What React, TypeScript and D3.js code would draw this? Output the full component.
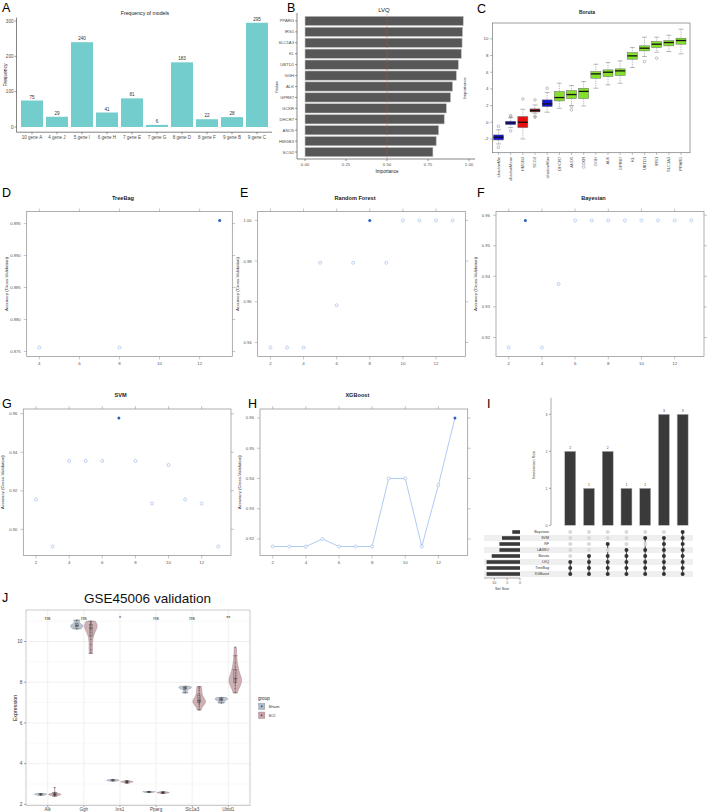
import React, { useEffect, useRef } from 'react';
import * as d3 from 'd3';

const FONT = '"Liberation Sans", Arial, Helvetica, sans-serif';

// A - frequency of models
const modelNames = ['10 gene A', '4 gene J', '5 gene I', '6 gene H', '7 gene E', '7 gene G', '8 gene D', '8 gene F', '9 gene B', '9 gene C'];
const modelFreq = [75, 29, 240, 41, 81, 6, 183, 22, 28, 295];
const freqTicks = [0, 100, 200, 300];

// B - LVQ importance
const lvqGenes = ['PPARG', 'IRS1', 'SLC1A3', 'KL', 'UBTD1', 'GGH', 'ALK', 'GPR87', 'GCKR', 'DHCR7', 'ANO5', 'HMGB3', 'SCG2'];
const lvqImportance = [0.965, 0.961, 0.958, 0.953, 0.935, 0.923, 0.9, 0.888, 0.862, 0.849, 0.815, 0.8, 0.78];
const lvqTicks = [0, 0.25, 0.5, 0.75, 1];

// C - Boruta
const borutaNames = ['shadowMin', 'shadowMean', 'HMGB3', 'SCG2', 'shadowMax', 'DHCR7', 'ANO5', 'GCKR', 'GGH', 'ALK', 'GPR87', 'KL', 'UBTD1', 'IRS1', 'SLC1A3', 'PPARG'];
const borutaDecision = ['shadow', 'shadow', 'rejected', 'tentative', 'shadow', 'confirmed', 'confirmed', 'confirmed', 'confirmed', 'confirmed', 'confirmed', 'confirmed', 'confirmed', 'confirmed', 'confirmed', 'confirmed'];
const borutaLower = [-2.6, -0.64, -2.0, 1.08, 1.2, 1.68, 2.0, 1.96, 4.08, 4.48, 4.68, 6.56, 7.88, 8.4, 8.48, 8.2];
const borutaQ1 = [-2.12, -0.28, -0.64, 1.24, 1.88, 2.56, 2.84, 2.84, 5.28, 5.48, 5.6, 7.56, 8.56, 8.96, 9.16, 9.36];
const borutaMedian = [-1.8, -0.08, 0.0, 1.4, 2.2, 2.96, 3.32, 3.7, 5.8, 6.0, 6.16, 7.96, 8.88, 9.36, 9.56, 9.8];
const borutaQ3 = [-1.52, 0.12, 0.68, 1.6, 2.68, 3.68, 3.8, 4.08, 6.08, 6.28, 6.4, 8.36, 9.16, 9.68, 9.8, 10.08];
const borutaUpper = [-0.9, 0.56, 1.56, 2.08, 3.56, 4.68, 4.4, 4.88, 6.96, 7.16, 7.36, 8.96, 10.2, 10.2, 10.44, 11.16];
const borutaOutliers = [[-0.5, -3.0], [0.8, 0.65, -1.04], [2.8], [2.68, 0.72, 0.6], [4.08], [], [1.88, 1.48], [], [], [], [], [], [7.28], [7.68], [], []];
const borutaTicks = [-2, 0, 2, 4, 6, 8, 10];
const decisionColor: Record<string, string> = {
  shadow: '#1414d8',
  rejected: '#e41010',
  tentative: '#8b1c1c',
  confirmed: '#84e02c',
};

// D-H - caret rfe accuracy
const treebagVars = [4, 8, 13];
const treebagAcc = [0.8756, 0.8756, 0.8955];
const rfVars = [2, 3, 4, 5, 6, 7, 8, 9, 10, 11, 12, 13];
const rfAcc = [0.9375, 0.9375, 0.9375, 0.9792, 0.9583, 0.9792, 1.0, 0.9792, 1.0, 1.0, 1.0, 1.0];
const bayesVars = [2, 3, 4, 5, 6, 7, 8, 9, 10, 11, 12, 13];
const bayesAcc = [0.9167, 0.9583, 0.9167, 0.9375, 0.9583, 0.9583, 0.9583, 0.9583, 0.9583, 0.9583, 0.9583, 0.9583];
const svmVars = [2, 3, 4, 5, 6, 7, 8, 9, 10, 11, 12, 13];
const svmAcc = [0.9155, 0.8911, 0.9355, 0.9355, 0.9355, 0.9578, 0.9355, 0.9134, 0.9334, 0.9155, 0.9134, 0.8911];
const xgbVars = [2, 3, 4, 5, 6, 7, 8, 9, 10, 11, 12, 13];
const xgbAcc = [0.9175, 0.9175, 0.9175, 0.92, 0.9175, 0.9175, 0.9175, 0.94, 0.94, 0.9175, 0.9378, 0.96];

// I - upset
const upsetSets = ['Bayesian', 'SVM', 'RF', 'LASSO', 'Boruta', 'LVQ', 'TreeBag', 'XGBoost'];
const upsetSetSize = [3, 7, 8, 8, 11, 13, 13, 13];
const upsetCounts = [2, 1, 2, 1, 1, 3, 3];
const upsetMembers = [
  ['LVQ', 'TreeBag', 'XGBoost'],
  ['Boruta', 'LVQ', 'TreeBag', 'XGBoost'],
  ['RF', 'Boruta', 'LVQ', 'TreeBag', 'XGBoost'],
  ['LASSO', 'Boruta', 'LVQ', 'TreeBag', 'XGBoost'],
  ['SVM', 'LASSO', 'Boruta', 'LVQ', 'TreeBag', 'XGBoost'],
  ['SVM', 'RF', 'LASSO', 'Boruta', 'LVQ', 'TreeBag', 'XGBoost'],
  ['Bayesian', 'SVM', 'RF', 'LASSO', 'Boruta', 'LVQ', 'TreeBag', 'XGBoost'],
];

// J - GSE45006 validation
const jGenes = ['Alk', 'Ggh', 'Ins1', 'Pparg', 'Slc1a3', 'Ubtd1'];
const jSignif = ['ns', 'ns', '*', 'ns', 'ns', '**'];
const shamExpr = [
  [2.44, 2.48, 2.5, 2.53],
  [10.62, 10.75, 10.82, 11.05],
  [3.14, 3.17, 3.19, 3.22],
  [2.58, 2.6, 2.62, 2.63],
  [7.48, 7.68, 7.74, 7.8],
  [6.98, 7.12, 7.18, 7.25],
];
const sciExpr = [
  [2.4, 2.42, 2.44, 2.45, 2.46, 2.47, 2.48, 2.48, 2.49, 2.5, 2.51, 2.52, 2.53, 2.55, 2.58, 2.82],
  [9.42, 9.6, 9.85, 10.1, 10.3, 10.45, 10.55, 10.62, 10.68, 10.72, 10.78, 10.82, 10.86, 10.9, 10.95, 11.0],
  [3.04, 3.06, 3.07, 3.08, 3.09, 3.09, 3.1, 3.1, 3.11, 3.11, 3.12, 3.12, 3.13, 3.14, 3.15, 3.16],
  [2.53, 2.54, 2.55, 2.56, 2.56, 2.57, 2.57, 2.57, 2.58, 2.58, 2.59, 2.59, 2.6, 2.6, 2.61, 2.62],
  [6.64, 6.8, 6.9, 6.95, 7.0, 7.02, 7.05, 7.08, 7.12, 7.18, 7.25, 7.35, 7.45, 7.6, 7.7, 7.78],
  [7.48, 7.7, 7.85, 7.95, 8.0, 8.05, 8.1, 8.15, 8.2, 8.3, 8.45, 8.6, 8.75, 8.95, 9.3, 9.72],
];
const exprTicks = [2, 4, 6, 8, 10];

function txt(g: any, x: number, y: number, s: string, size: number, o: any = {}) {
  const t = g.append('text')
    .attr('x', x).attr('y', y)
    .attr('font-size', size)
    .attr('fill', o.fill || '#4d4d4d')
    .attr('text-anchor', o.anchor || 'start')
    .text(s);
  if (o.bold) t.attr('font-weight', 'bold');
  if (o.rotate) t.attr('transform', `rotate(${o.rotate},${x},${y})`);
  return t;
}

function line(g: any, x1: number, y1: number, x2: number, y2: number, stroke: string, w = 0.5) {
  return g.append('line').attr('x1', x1).attr('y1', y1).attr('x2', x2).attr('y2', y2)
    .attr('stroke', stroke).attr('stroke-width', w);
}

function drawA(svg: any) {
  const g = svg.append('g');
  const data = modelNames.map((name, i) => ({ name, freq: modelFreq[i] }));
  const x = d3.scaleBand().domain(modelNames).range([17, 272]).paddingInner(0.12).paddingOuter(0.16);
  const y = d3.scaleLinear().domain([0, 300]).range([127, 21]);

  g.selectAll('rect.bar').data(data).join('rect')
    .attr('x', (d: any) => x(d.name)).attr('width', x.bandwidth())
    .attr('y', (d: any) => y(d.freq)).attr('height', (d: any) => y(0) - y(d.freq))
    .attr('fill', '#74cdcd');
  data.forEach(d => txt(g, x(d.name)! + x.bandwidth() / 2, y(d.freq) - 2, String(d.freq), 4.6, { anchor: 'middle', fill: '#333' }));

  line(g, 16.5, y(309.75), 16.5, y(-14.75), '#333', 0.6);
  line(g, 16.5, y(-14.75), 272, y(-14.75), '#333', 0.6);
  freqTicks.forEach(t => {
    line(g, 14.5, y(t), 16.5, y(t), '#333', 0.5);
    txt(g, 13.5, y(t) + 1.6, String(t), 4.6, { anchor: 'end' });
  });
  data.forEach(d => {
    const cx = x(d.name)! + x.bandwidth() / 2;
    line(g, cx, y(-14.75), cx, y(-14.75) + 2, '#333', 0.5);
    txt(g, cx, 138.5, d.name, 4.5, { anchor: 'middle' });
  });
  txt(g, 145, 15, 'Frequency of models', 5.2, { anchor: 'middle', fill: '#222' });
  txt(g, 6.5, 75, 'Frequency', 4.8, { anchor: 'middle', rotate: -90, fill: '#222' });
}

function drawB(svg: any) {
  const g = svg.append('g');
  const x = d3.scaleLinear().domain([0, 1]).range([305, 469]);
  const y = d3.scaleBand().domain(lvqGenes).range([15.2, 157.8]).paddingInner(0.15).paddingOuter(0.1);
  const data = lvqGenes.map((gene, i) => ({ gene, imp: lvqImportance[i] }));

  g.selectAll('rect.bar').data(data).join('rect')
    .attr('x', x(0)).attr('y', (d: any) => y(d.gene))
    .attr('width', (d: any) => x(d.imp) - x(0)).attr('height', y.bandwidth())
    .attr('fill', '#575757').attr('stroke', '#c4c4c4').attr('stroke-width', 0.6);

  line(g, x(0.5), 14, x(0.5), 158, '#d9463e', 0.5).attr('stroke-dasharray', '1.5,1');
  line(g, 297, 13, 297, 159, '#333', 0.6);
  line(g, 297, 159, 475, 159, '#333', 0.6);
  data.forEach(d => {
    const cy = y(d.gene)! + y.bandwidth() / 2;
    line(g, 295, cy, 297, cy, '#333', 0.5);
    txt(g, 294, cy + 1.5, d.gene, 4.2, { anchor: 'end' });
  });
  lvqTicks.forEach(t => {
    line(g, x(t), 159, x(t), 161, '#333', 0.5);
    txt(g, x(t), 165.5, d3.format('.2f')(t), 4.3, { anchor: 'middle' });
  });
  txt(g, 384, 12, 'LVQ', 6, { anchor: 'middle', fill: '#222' });
  txt(g, 387, 172.5, 'Importance', 4.6, { anchor: 'middle', fill: '#222' });
  txt(g, 278, 87, 'Feature', 3.4, { anchor: 'middle', rotate: -90, fill: '#222' });
}

function drawC(svg: any) {
  const g = svg.append('g');
  const left = 492.5, right = 690, top = 23, bottom = 152.7;
  const x = d3.scaleLinear().domain([1, borutaNames.length]).range([498.5, 681]);
  const y = d3.scaleLinear().domain([-3.65, 11.9]).range([bottom, top]);

  g.append('rect').attr('x', left).attr('y', top).attr('width', right - left).attr('height', bottom - top)
    .attr('fill', 'none').attr('stroke', '#777').attr('stroke-width', 0.7);

  borutaNames.forEach((name, i) => {
    const cx = x(i + 1);
    const col = decisionColor[borutaDecision[i]];
    line(g, cx, y(borutaUpper[i]), cx, y(borutaQ3[i]), '#777', 0.5).attr('stroke-dasharray', '1.3,1');
    line(g, cx, y(borutaQ1[i]), cx, y(borutaLower[i]), '#777', 0.5).attr('stroke-dasharray', '1.3,1');
    line(g, cx - 2.5, y(borutaUpper[i]), cx + 2.5, y(borutaUpper[i]), '#777', 0.5);
    line(g, cx - 2.5, y(borutaLower[i]), cx + 2.5, y(borutaLower[i]), '#777', 0.5);
    g.append('rect').attr('x', cx - 5).attr('width', 10)
      .attr('y', y(borutaQ3[i])).attr('height', y(borutaQ1[i]) - y(borutaQ3[i]))
      .attr('fill', col).attr('stroke', '#666').attr('stroke-width', 0.5);
    line(g, cx - 5, y(borutaMedian[i]), cx + 5, y(borutaMedian[i]), '#111', 1.3);
    borutaOutliers[i].forEach(o => {
      g.append('circle').attr('cx', cx).attr('cy', y(o)).attr('r', 1.3)
        .attr('fill', 'none').attr('stroke', '#777').attr('stroke-width', 0.45);
    });
    line(g, cx, bottom, cx, bottom + 2.2, '#777', 0.5);
    txt(g, cx + 1.5, bottom + 4, name, 4.1, { anchor: 'end', rotate: -90 });
  });
  borutaTicks.forEach(t => {
    line(g, left - 2.5, y(t), left, y(t), '#777', 0.5);
    txt(g, left - 4, y(t) + 1.5, String(t), 4.4, { anchor: 'end' });
  });
  txt(g, 587, 14, 'Boruta', 5, { anchor: 'middle', bold: true, fill: '#222' });
  txt(g, 465.5, 88, 'Importance', 4.3, { anchor: 'middle', rotate: -90, fill: '#333' });
}

interface CaretOpts {
  title: string;
  vars: number[];
  acc: number[];
  best: number;
  yTicks: number[];
  yFmt: string;
  xTicks: number[];
  box: number[];
  line?: boolean;
}

function drawCaret(svg: any, p: CaretOpts) {
  const g = svg.append('g');
  const [x0, x1, y0, y1] = p.box;
  const [vmin, vmax] = d3.extent(p.vars) as [number, number];
  const [amin, amax] = d3.extent(p.acc) as [number, number];
  const xp = (vmax - vmin) * 0.07, yp = (amax - amin) * 0.07;
  const x = d3.scaleLinear().domain([vmin - xp, vmax + xp]).range([x0, x1]);
  const y = d3.scaleLinear().domain([amin - yp, amax + yp]).range([y1, y0]);
  const pts = p.vars.map((v, i) => ({ v, a: p.acc[i] }));

  g.append('rect').attr('x', x0).attr('y', y0).attr('width', x1 - x0).attr('height', y1 - y0)
    .attr('fill', 'none').attr('stroke', '#8c8c8c').attr('stroke-width', 0.7);
  p.xTicks.forEach(t => {
    line(g, x(t), y1, x(t), y1 + 3, '#8c8c8c', 0.5);
    line(g, x(t), y0, x(t), y0 - 3, '#8c8c8c', 0.5);
    txt(g, x(t), y1 + 8.5, String(t), 4.4, { anchor: 'middle', fill: '#555' });
  });
  p.yTicks.forEach(t => {
    line(g, x0 - 3, y(t), x0, y(t), '#8c8c8c', 0.5);
    line(g, x1, y(t), x1 + 3, y(t), '#8c8c8c', 0.5);
    txt(g, x0 - 6, y(t) + 1.5, d3.format(p.yFmt)(t), 4.2, { anchor: 'end', fill: '#555' });
  });
  if (p.line) {
    const ln = d3.line<any>().x(d => x(d.v)).y(d => y(d.a));
    g.append('path').attr('d', ln(pts)).attr('fill', 'none').attr('stroke', '#9bbcf0').attr('stroke-width', 0.8);
  }
  pts.forEach(d => {
    if (d.v === p.best) {
      g.append('circle').attr('cx', x(d.v)).attr('cy', y(d.a)).attr('r', 1.5).attr('fill', '#2a62bd');
    } else {
      g.append('circle').attr('cx', x(d.v)).attr('cy', y(d.a)).attr('r', 1.5)
        .attr('fill', p.line ? '#fff' : 'none').attr('stroke', '#93b4e8').attr('stroke-width', 0.6);
    }
  });
  txt(g, (x0 + x1) / 2 - 6.5, y0 - 12, p.title, 5.6, { anchor: 'middle', bold: true, fill: '#222' });
  txt(g, x0 - 19, (y0 + y1) / 2, 'Accuracy (Cross-Validation)', 4.4, { anchor: 'middle', rotate: -90, fill: '#333' });
}

function drawI(svg: any) {
  const g = svg.append('g');
  const cols = upsetCounts.map((c, i) => i);
  const x = d3.scaleBand<number>().domain(cols).range([561, 691.9]).paddingInner(0.413).paddingOuter(0.2);
  const y = d3.scaleLinear().domain([0, 3]).range([525.3, 414.3]);

  line(g, 551, 397.7, 551, 525.3, '#555', 0.5);
  [0, 1, 2, 3].forEach(t => {
    line(g, 549, y(t), 551, y(t), '#555', 0.5);
    txt(g, 547.5, y(t) + 1.2, String(t), 3.6, { anchor: 'end', fill: '#555' });
  });
  g.selectAll('rect.bar').data(upsetCounts).join('rect')
    .attr('x', (d: any, i: number) => x(i)).attr('width', x.bandwidth())
    .attr('y', (d: any) => y(d)).attr('height', (d: any) => y(0) - y(d))
    .attr('fill', '#3a3a3a').attr('stroke', '#bbb').attr('stroke-width', 0.5);
  upsetCounts.forEach((c, i) => txt(g, x(i)! + x.bandwidth() / 2, y(c) - 2, String(c), 3.4, { anchor: 'middle', fill: '#444' }));
  txt(g, 535, 465, 'Intersection Size', 3.8, { anchor: 'middle', rotate: -90, fill: '#333' });

  // matrix
  const row = d3.scaleBand().domain(upsetSets).range([529, 577]);
  upsetSets.forEach((s, r) => {
    if (r % 2 === 1) {
      g.append('rect').attr('x', 484).attr('y', row(s)).attr('width', 209).attr('height', row.bandwidth()).attr('fill', '#efefef');
    }
  });
  upsetMembers.forEach((mem, i) => {
    const cx = x(i)! + x.bandwidth() / 2;
    const ys = mem.map(m => row(m)! + row.bandwidth() / 2);
    line(g, cx, d3.min(ys)!, cx, d3.max(ys)!, '#333', 0.9);
    upsetSets.forEach(s => {
      g.append('circle').attr('cx', cx).attr('cy', row(s)! + row.bandwidth() / 2).attr('r', 2)
        .attr('fill', mem.includes(s) ? '#333' : '#d8d8d8');
    });
  });
  // set sizes
  const sx = d3.scaleLinear().domain([0, 14]).range([520, 484]);
  upsetSets.forEach((s, i) => {
    g.append('rect').attr('x', sx(upsetSetSize[i])).attr('width', sx(0) - sx(upsetSetSize[i]))
      .attr('y', row(s)! + 1.2).attr('height', row.bandwidth() - 2.4).attr('fill', '#3a3a3a');
    txt(g, 549, row(s)! + row.bandwidth() / 2 + 1.2, s, 3.6, { anchor: 'end', fill: '#333' });
  });
  line(g, 484, 578, 520, 578, '#555', 0.5);
  [0, 5, 10].forEach(t => {
    line(g, sx(t), 578, sx(t), 580, '#555', 0.5);
    txt(g, sx(t), 584, String(t), 3.6, { anchor: 'middle', fill: '#555' });
  });
  txt(g, 502, 590, 'Set Size', 3.8, { anchor: 'middle', fill: '#333' });
}

function density(values: number[], n = 48) {
  const s = values.slice().sort(d3.ascending);
  const sd = d3.deviation(s) || 0.01;
  const iqr = (d3.quantile(s, 0.75) as number) - (d3.quantile(s, 0.25) as number);
  const spread = iqr > 0 ? Math.min(sd, iqr / 1.34) : sd;
  const bw = 0.9 * spread * Math.pow(s.length, -0.2);
  const [lo, hi] = d3.extent(s) as [number, number];
  return d3.range(n + 1).map(k => {
    const v = lo + ((hi - lo) * k) / n;
    return { v, d: d3.mean(s, u => Math.exp(-0.5 * ((v - u) / bw) ** 2)) as number };
  });
}

function drawJ(svg: any) {
  const g = svg.append('g');
  const left = 26, right = 250, top = 610, bottom = 805.5;
  const x = d3.scalePoint().domain(jGenes).range([47.7, 228.3]);
  const y = d3.scaleLinear().domain([2, 10]).range([804.3, 641.5]);

  g.append('rect').attr('x', left).attr('y', top).attr('width', right - left).attr('height', bottom - top).attr('fill', '#fff');
  [3, 5, 7, 9, 11].forEach(t => line(g, left, y(t), right, y(t), '#f3f3f3', 0.5));
  exprTicks.forEach(t => line(g, left, y(t), right, y(t), '#e6e6e6', 0.6));
  jGenes.forEach(gn => line(g, x(gn)!, top, x(gn)!, bottom, '#e6e6e6', 0.6));

  const groups = [
    { name: 'Sham', data: shamExpr, off: -7, fill: '#aebbc8', stroke: '#8e9aa8' },
    { name: 'SCI', data: sciExpr, off: 7, fill: '#c7a2a8', stroke: '#a58088' },
  ];
  groups.forEach(gr => {
    jGenes.forEach((gn, i) => {
      const vals = gr.data[i];
      const cx = x(gn)! + gr.off;
      const dens = density(vals);
      const dmax = d3.max(dens, d => d.d) as number;
      const w = d3.scaleLinear().domain([0, dmax]).range([0, 6.3]);
      const area = d3.area<any>().y(d => y(d.v)).x0(d => cx - w(d.d)).x1(d => cx + w(d.d)).curve(d3.curveBasis);
      g.append('path').attr('d', area(dens)).attr('fill', gr.fill).attr('fill-opacity', 0.85)
        .attr('stroke', gr.stroke).attr('stroke-width', 0.5);
      const s = vals.slice().sort(d3.ascending);
      const q1 = d3.quantile(s, 0.25) as number, q3 = d3.quantile(s, 0.75) as number, med = d3.median(s) as number;
      const iqr = q3 - q1;
      const lo = d3.min(s.filter(v => v >= q1 - 1.5 * iqr)) as number;
      const hi = d3.max(s.filter(v => v <= q3 + 1.5 * iqr)) as number;
      line(g, cx, y(hi), cx, y(lo), '#555', 0.4);
      line(g, cx - 2.5, y(hi), cx + 2.5, y(hi), '#555', 0.4);
      line(g, cx - 2.5, y(lo), cx + 2.5, y(lo), '#555', 0.4);
      g.append('rect').attr('x', cx - 1.6).attr('width', 3.2).attr('y', y(q3)).attr('height', Math.max(0.3, y(q1) - y(q3)))
        .attr('fill', 'none').attr('stroke', '#555').attr('stroke-width', 0.4);
      line(g, cx - 1.6, y(med), cx + 1.6, y(med), '#333', 0.6);
      vals.forEach(v => g.append('circle').attr('cx', cx).attr('cy', y(v)).attr('r', 0.6).attr('fill', '#444').attr('fill-opacity', 0.7));
    });
  });

  g.append('rect').attr('x', left).attr('y', top).attr('width', right - left).attr('height', bottom - top)
    .attr('fill', 'none').attr('stroke', '#b5b5b5').attr('stroke-width', 0.7);
  exprTicks.forEach(t => {
    line(g, left - 2, y(t), left, y(t), '#555', 0.5);
    txt(g, left - 3.5, y(t) + 1.7, String(t), 4.8, { anchor: 'end' });
  });
  jGenes.forEach((gn, i) => {
    line(g, x(gn)!, bottom, x(gn)!, bottom + 1.5, '#555', 0.5);
    txt(g, x(gn)!, 811, gn, 4.6, { anchor: 'middle' });
    txt(g, x(gn)!, 620, jSignif[i], 5.4, { anchor: 'middle', fill: '#333' });
  });
  txt(g, 16.5, 708, 'Expression', 5.4, { anchor: 'middle', rotate: -90, fill: '#222' });
  txt(g, 147.5, 603, 'GSE45006 validation', 13.5, { anchor: 'middle', fill: '#111' });

  // legend
  txt(g, 258, 700, 'group', 4.6, { fill: '#222' });
  groups.forEach((gr, i) => {
    const ky = 702.7 + i * 8.8;
    g.append('rect').attr('x', 258).attr('y', ky).attr('width', 7.4).attr('height', 7.4).attr('fill', '#f0f0f0');
    g.append('rect').attr('x', 258.6).attr('y', ky + 0.6).attr('width', 6.2).attr('height', 6.2)
      .attr('fill', gr.fill).attr('stroke', gr.stroke).attr('stroke-width', 0.4);
    g.append('circle').attr('cx', 261.7).attr('cy', ky + 3.7).attr('r', 0.8).attr('fill', '#444');
    txt(g, 268.5, ky + 5.3, gr.name, 4.2, { fill: '#333' });
  });
}

export default function App() {
  const svgRef = useRef<SVGSVGElement>(null);

  useEffect(() => {
    if (!svgRef.current) return;
    const svg = d3.select(svgRef.current);
    svg.selectAll('*').remove();
    svg.append('rect').attr('width', 708).attr('height', 812).attr('fill', '#fff');

    drawA(svg);
    drawB(svg);
    drawC(svg);
    drawCaret(svg, { title: 'TreeBag', vars: treebagVars, acc: treebagAcc, best: 13, yTicks: [0.875, 0.88, 0.885, 0.89, 0.895], yFmt: '.3f', xTicks: [4, 6, 8, 10, 12], box: [26.7, 232.3, 211.5, 356.5] });
    drawCaret(svg, { title: 'Random Forest', vars: rfVars, acc: rfAcc, best: 8, yTicks: [0.94, 0.96, 0.98, 1.0], yFmt: '.2f', xTicks: [2, 4, 6, 8, 10, 12], box: [257.7, 465.3, 211.5, 356.5] });
    drawCaret(svg, { title: 'Bayesian', vars: bayesVars, acc: bayesAcc, best: 3, yTicks: [0.92, 0.93, 0.94, 0.95, 0.96], yFmt: '.2f', xTicks: [2, 4, 6, 8, 10, 12], box: [496, 704, 211.5, 356.5] });
    drawCaret(svg, { title: 'SVM', vars: svmVars, acc: svmAcc, best: 7, yTicks: [0.9, 0.92, 0.94, 0.96], yFmt: '.2f', xTicks: [2, 4, 6, 8, 10, 12], box: [23.3, 231, 409, 555.5] });
    drawCaret(svg, { title: 'XGBoost', vars: xgbVars, acc: xgbAcc, best: 13, yTicks: [0.92, 0.93, 0.94, 0.95, 0.96], yFmt: '.2f', xTicks: [2, 4, 6, 8, 10, 12], box: [260, 467.7, 409, 555.5], line: true });
    drawI(svg);
    drawJ(svg);

    const labels: [string, number, number][] = [
      ['A', 2, 12], ['B', 287, 12], ['C', 477, 13],
      ['D', 2, 197], ['E', 240, 197], ['F', 477, 197],
      ['G', 2, 408], ['H', 248, 408], ['I', 487, 408], ['J', 2, 602],
    ];
    labels.forEach(([s, x, y]) => txt(svg, x, y, s, 12.5, { fill: '#000' }));
  }, []);

  return (
    <svg
      ref={svgRef}
      width={708}
      height={812}
      style={{ position: 'absolute', left: 0, top: 0, fontFamily: FONT }}
    />
  );
}
